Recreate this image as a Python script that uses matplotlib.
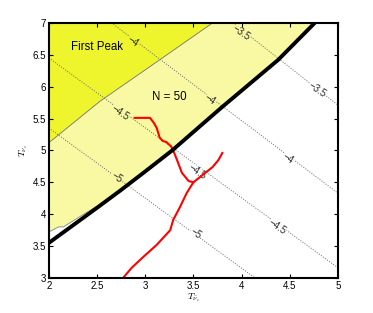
import numpy as np
import matplotlib
matplotlib.use("Agg")
import matplotlib.pyplot as plt

plt.rcParams["font.family"] = ["Liberation Sans", "DejaVu Sans"]
plt.rcParams["mathtext.fontset"] = "cm"

# region boundaries
thick_x = [2.0, 2.5, 2.75, 3.0, 3.28, 3.79, 4.38, 4.76]
thick_y = [3.55, 4.10, 4.38, 4.67, 5.0, 5.67, 6.42, 7.0]
pale_x = [2.0, 2.1, 2.15, 2.63, 3.0, 3.28, 3.79, 4.38, 4.76]
pale_y = [3.72, 3.8, 3.8, 4.25, 4.67, 5.0, 5.67, 6.42, 7.0]
peak_x = [2.0, 2.53, 3.15, 3.70]
peak_y = [5.12, 5.77, 6.42, 7.0]

# contour lines (level, x, y)
contours = {
    -3.5: ([3.91, 5.0], [7.0, 5.71]),
    -4.0: ([2.65, 5.0], [7.0, 4.33]),
    -4.5: ([2.0, 5.0], [6.45, 3.16]),
    -5.0: ([2.0, 4.14], [5.35, 3.0]),
}
label_pos = {
    -3.5: [(4.0, 6.84), (4.78, 5.95)],
    -4.0: [(2.87, 6.70), (3.67, 5.79), (4.48, 4.87)],
    -4.5: [(2.74, 5.59), (3.54, 4.66), (4.37, 3.80)],
    -5.0: [(2.70, 4.57), (3.52, 3.70)],
}

# trajectory
red_a_x = [2.89, 3.05, 3.09, 3.12, 3.15, 3.18, 3.22, 3.27, 3.29, 3.33, 3.38, 3.45, 3.50]
red_a_y = [5.51, 5.51, 5.43, 5.35, 5.20, 5.15, 5.13, 5.06, 5.0, 4.85, 4.65, 4.52, 4.50]
red_b_x = [2.77, 2.86, 2.98, 3.12, 3.26, 3.29, 3.36, 3.43, 3.50, 3.60, 3.70, 3.76, 3.80]
red_b_y = [3.0, 3.16, 3.33, 3.52, 3.75, 3.91, 4.11, 4.33, 4.50, 4.62, 4.74, 4.85, 4.96]

BRIGHT = "#eff52c"
PALE = "#f8f9a2"

fig = plt.figure(figsize=(3.73, 3.13), dpi=100)
ax = fig.add_axes([0.131, 0.112, 0.775, 0.815])

ax.fill(pale_x + [2.0], pale_y + [7.0], color=PALE, lw=0, zorder=1)
ax.plot(pale_x[:4], pale_y[:4], color="0.5", lw=0.6, zorder=2)
ax.fill(peak_x + [2.0], peak_y + [7.0], color=BRIGHT, lw=0, zorder=1)
ax.plot(peak_x, peak_y, color="0.45", lw=0.6, zorder=2)

for lev, (cx, cy) in contours.items():
    ax.plot(cx, cy, color="0.4", lw=0.7, ls=(0, (1, 1.6)), zorder=3)
    for (lx, ly) in label_pos[lev]:
        if ly > np.interp(lx, peak_x, peak_y):
            bg = BRIGHT
        elif ly > np.interp(lx, thick_x, thick_y):
            bg = PALE
        else:
            bg = "white"
        txt = ("%g" % lev).replace("-", "\u2212")
        ax.text(lx, ly, txt, fontsize=7, rotation=-34, ha="center", va="center",
                rotation_mode="anchor", zorder=4, color="0.15",
                bbox=dict(facecolor=bg, edgecolor="none", pad=0.1))

ax.plot(red_a_x, red_a_y, color="red", lw=1.5, zorder=5)
ax.plot(red_b_x, red_b_y, color="red", lw=1.5, zorder=5)
ax.plot(thick_x, thick_y, color="black", lw=2.8, zorder=6, solid_capstyle="butt")

ax.text(2.5, 6.62, "First Peak", fontsize=8.3, ha="center", va="center", zorder=7)
ax.text(3.25, 5.84, "N = 50", fontsize=8.3, ha="center", va="center", zorder=7)

ax.set_xlim(2, 5)
ax.set_ylim(3, 7)
ax.set_xticks(np.arange(2, 5.01, 0.5))
ax.set_yticks(np.arange(3, 7.01, 0.5))
ax.set_xticklabels(["2", "2.5", "3", "3.5", "4", "4.5", "5"])
ax.set_yticklabels(["3", "3.5", "4", "4.5", "5", "5.5", "6", "6.5", "7"])
ax.tick_params(direction="in", top=True, right=True, length=3, width=0.8,
               labelsize=7, pad=2)
for s in ax.spines.values():
    s.set_linewidth(1.5)
    s.set_zorder(8)
ax.set_xlabel(r"$T_{\bar{\nu}_e}$", fontsize=7, labelpad=0)
ax.set_ylabel(r"$T_{\nu_e}$", fontsize=7, labelpad=2)

fig.savefig("out.png", dpi=100)
